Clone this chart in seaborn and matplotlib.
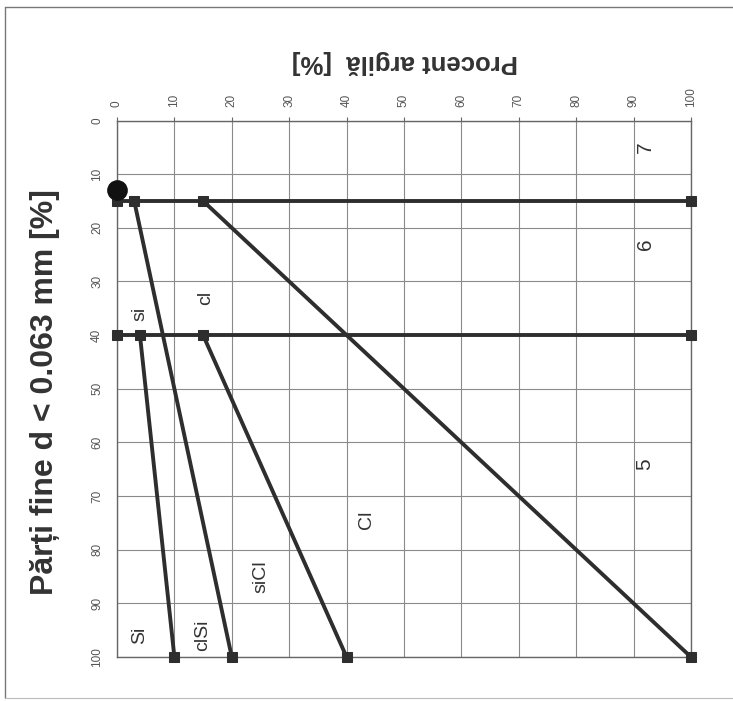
import numpy as np
import pandas as pd
import matplotlib
matplotlib.use("Agg")
import matplotlib.pyplot as plt
import seaborn as sns

# segmente (parti fine pe verticala, argila pe orizontala)
start_fine = [15, 40, 15, 40, 15, 40]
start_clay = [0, 0, 3, 4, 15, 15]
end_fine = [15, 40, 100, 100, 100, 100]
end_clay = [100, 100, 20, 10, 100, 40]

# punctul mare
dot_fine = [13]
dot_clay = [0]

# etichete zone
lab_text = ["7", "6", "5", "cl", "si", "Cl", "siCl", "clSi", "Si"]
lab_clay = [92, 92, 92, 15.5, 4, 43.5, 25, 15, 4]
lab_fine = [5, 23, 64, 33, 36, 74.5, 85, 96, 96]

ticks = list(range(0, 101, 10))

rows = []
for i in range(len(start_fine)):
    rows.append({"seg": i, "fine": start_fine[i], "clay": start_clay[i]})
    rows.append({"seg": i, "fine": end_fine[i], "clay": end_clay[i]})
df = pd.DataFrame(rows)

sns.set_style("white")
plt.rcParams['font.family'] = ['Liberation Sans', 'DejaVu Sans']

fig = plt.figure(figsize=(7.33, 7.01), dpi=100)
ax = fig.add_axes([0.1596, 0.0628, 0.783, 0.7653])

ink = "#2e2e2e"
sns.lineplot(data=df, x="clay", y="fine", units="seg", estimator=None, sort=False,
             color=ink, lw=2.8, marker="s", markersize=7.5, markeredgecolor=ink,
             markerfacecolor=ink, ax=ax, zorder=3, clip_on=False)
sns.scatterplot(x=dot_clay, y=dot_fine, s=190, color="#111111", edgecolor="#111111",
                ax=ax, zorder=4, clip_on=False)

for t, c, f in zip(lab_text, lab_clay, lab_fine):
    fs = 15 if t.isdigit() else 14
    ax.text(c, f, t, rotation=90, ha="center", va="center", fontsize=fs, color="#333333")

ax.set_xlim(0, 100)
ax.set_ylim(100, 0)
ax.set_xticks(ticks)
ax.set_yticks(ticks)
ax.xaxis.tick_top()
ax.grid(True, color="#8a8a8a", lw=0.8)
for s in ax.spines.values():
    s.set_color("#666666")
    s.set_linewidth(1.0)
ax.tick_params(axis="both", length=3, color="#666666", labelsize=8.5, labelcolor="#555555", pad=7)
for lab in ax.get_xticklabels():
    lab.set_rotation(90)
for lab in ax.get_yticklabels():
    lab.set_rotation(90)
    lab.set_va("center")
ax.set_xlabel("")
ax.set_ylabel("")

fig.text(45 / 733, 1 - 392 / 701, "Părți fine d < 0.063 mm [%]", rotation=90,
         ha="center", va="center", fontsize=23, fontweight="bold", color="#333333")
fig.text(405 / 733, 1 - 62 / 701, "Procent argilă  [%]", rotation=180,
         ha="center", va="center", fontsize=18.5, fontweight="bold", color="#333333")

# chenarul scanat
fig.add_artist(plt.Line2D([5 / 733, 5 / 733], [1 - 7 / 701, 1 - 698 / 701],
                          transform=fig.transFigure, color="#777777", lw=1))
fig.add_artist(plt.Line2D([5 / 733, 1], [1 - 7 / 701, 1 - 7 / 701],
                          transform=fig.transFigure, color="#777777", lw=1))
fig.add_artist(plt.Line2D([5 / 733, 1], [1 - 698 / 701, 1 - 698 / 701],
                          transform=fig.transFigure, color="#bbbbbb", lw=0.8))

fig.savefig("out.png", dpi=100)
